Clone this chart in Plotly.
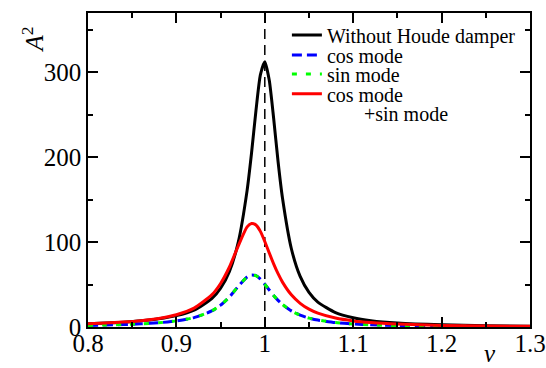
import plotly.graph_objects as go

# frequency ratio nu
nu = [0.80, 0.82, 0.84, 0.86, 0.88, 0.90, 0.92, 0.94, 0.95, 0.96, 0.97, 0.98, 0.985,
      0.99, 0.995, 1.00, 1.005, 1.01, 1.015, 1.02, 1.03, 1.04, 1.05, 1.06, 1.08,
      1.10, 1.12, 1.15, 1.20, 1.25, 1.30]

without_damper = [3.8, 4.6, 5.7, 7.3, 9.6, 13.4, 20.0, 33.4, 45.7, 65.6, 100.0, 161.0, 205.0,
                  255.0, 297.0, 312.5, 291.0, 246.0, 195.0, 152.0, 92.5, 59.6, 40.7, 29.3, 16.9,
                  10.9, 7.5, 4.7, 2.6, 1.6, 1.0]

cos_mode = [1.9, 2.3, 2.9, 3.7, 5.0, 7.2, 11.1, 18.9, 25.7, 35.4, 47.9, 59.0, 61.3,
            60.4, 56.4, 50.4, 43.7, 37.2, 31.4, 26.5, 19.0, 14.0, 10.5, 8.2, 5.2,
            3.6, 2.6, 1.7, 0.97, 0.61, 0.41]

sin_mode = [1.9, 2.3, 2.9, 3.7, 5.0, 7.2, 11.1, 18.9, 25.7, 35.4, 47.9, 59.0, 61.3,
            60.4, 56.4, 50.4, 43.7, 37.2, 31.4, 26.5, 19.0, 14.0, 10.5, 8.2, 5.2,
            3.6, 2.6, 1.7, 0.97, 0.61, 0.41]

cos_plus_sin = [3.8, 4.6, 5.8, 7.5, 10.1, 14.4, 22.2, 37.8, 51.3, 70.7, 95.7, 117.9, 122.0,
                120.2, 112.7, 100.8, 87.4, 74.4, 62.8, 52.9, 37.9, 27.9, 21.0, 16.3, 10.5,
                7.2, 5.2, 3.4, 1.9, 1.2, 0.8]

x_ticks = [0.8, 0.9, 1.0, 1.1, 1.2, 1.3]
x_tick_labels = ["0.8", "0.9", "1", "1.1", "1.2", "1.3"]
y_ticks = [0, 100, 200, 300]
y_tick_labels = ["0", "100", "200", "300"]
resonance = 1.0

FONT = "Liberation Serif"

fig = go.Figure()
fig.add_trace(go.Scatter(x=nu, y=without_damper, mode="lines", name="Without Houde damper",
                         legend="legend",
                         line=dict(color="#000000", width=3, shape="spline", smoothing=0.6)))
fig.add_trace(go.Scatter(x=nu, y=cos_mode, mode="lines", name="cos mode", legend="legend2",
                         line=dict(color="#0000ff", width=3, dash="10px,5px", shape="spline", smoothing=0.6)))
fig.add_trace(go.Scatter(x=nu, y=sin_mode, mode="lines", name="sin mode", legend="legend3",
                         line=dict(color="#00ff00", width=3, dash="5px,9px", shape="spline", smoothing=0.6)))
fig.add_trace(go.Scatter(x=nu, y=cos_plus_sin, mode="lines", legend="legend4",
                         name="cos mode", hovertemplate="cos mode +sin mode<br>%{x}, %{y}<extra></extra>",
                         line=dict(color="#ff0000", width=3, shape="spline", smoothing=0.6)))

fig.add_vline(x=resonance, line=dict(color="#000000", width=1.5, dash="10px,6px"), layer="below")

axis_common = dict(
    showline=True, linecolor="#000000", linewidth=1.5, mirror="allticks",
    ticks="inside", ticklen=10, tickwidth=1.5, tickcolor="#000000",
    showgrid=False, zeroline=False, automargin=False,
    tickfont=dict(family=FONT, size=25, color="#000000"),
)

fig.update_xaxes(range=[0.8, 1.3], tickvals=x_ticks, ticktext=x_tick_labels,
                 ticklabelstandoff=-7,
                 minor=dict(dtick=0.05, ticks="inside", ticklen=5, tickwidth=1.5, tickcolor="#000000"),
                 **axis_common)
fig.update_yaxes(range=[0, 370], tickvals=y_ticks, ticktext=y_tick_labels,
                 minor=dict(dtick=50, ticks="inside", ticklen=5, tickwidth=1.5, tickcolor="#000000"),
                 **axis_common)

fig.add_annotation(text="<i>A</i><sup>2</sup>", xref="paper", yref="paper", x=-0.166, y=0.962,
                   textangle=-90, showarrow=False, font=dict(family=FONT, size=25, color="#000000"))
fig.add_annotation(text="<i>ν</i>", xref="paper", yref="paper", x=0.928, y=-0.133,
                   showarrow=False, font=dict(family=FONT, size=25, color="#000000"))
# second line of the red legend entry ("cos mode / +sin mode")
fig.add_annotation(text="+sin mode", xref="paper", yref="paper", x=0.62, y=0.678,
                   xanchor="left", yanchor="middle", showarrow=False,
                   font=dict(family=FONT, size=20, color="#000000"))

leg_common = dict(x=0.45, xanchor="left", bgcolor="rgba(0,0,0,0)",
                  font=dict(family=FONT, size=20, color="#000000"), itemwidth=30,
                  valign="top")

fig.update_layout(
    width=546, height=368,
    margin=dict(l=88, r=16, t=13, b=41),
    paper_bgcolor="#ffffff", plot_bgcolor="#ffffff",
    showlegend=True,
    legend=dict(y=0.930, yanchor="middle", **leg_common),
    legend2=dict(y=0.866, yanchor="middle", **leg_common),
    legend3=dict(y=0.806, yanchor="middle", **leg_common),
    legend4=dict(y=0.743, yanchor="middle", **leg_common),
)

fig.write_html("out.html", config={"displayModeBar": False},
               post_script="document.body.style.margin='0px';document.body.style.padding='0px';")
